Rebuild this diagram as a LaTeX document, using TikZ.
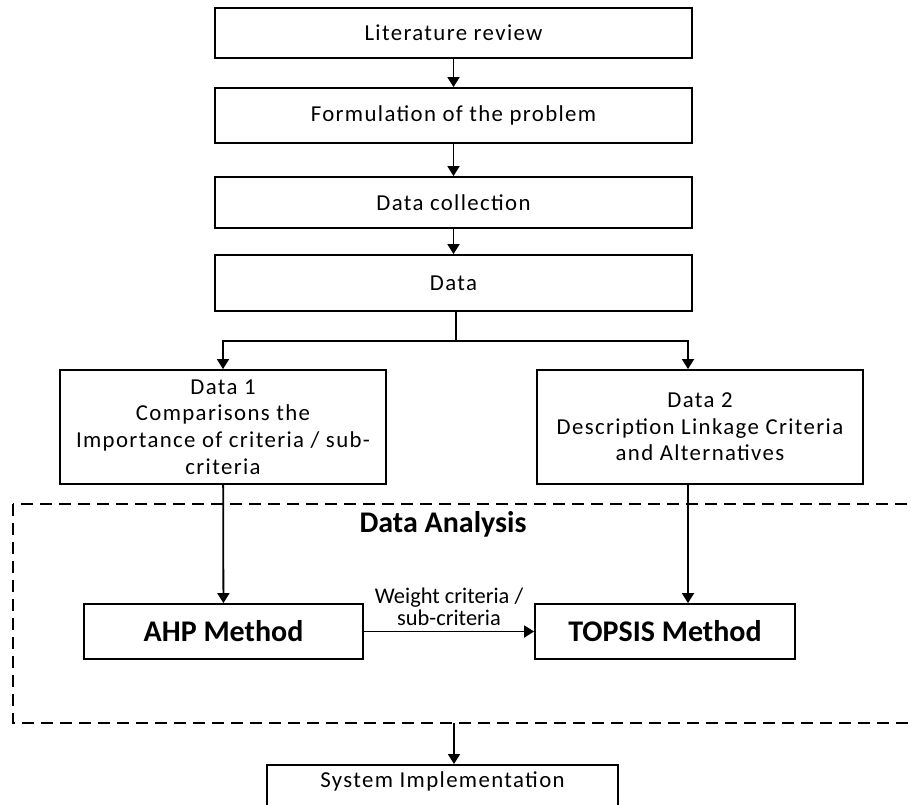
\documentclass[tikz,border=0pt]{standalone}
\usepackage{fontspec}
\setmainfont{Carlito}
\usepackage{tikz}
\usetikzlibrary{arrows.meta}
\usetikzlibrary{positioning}

\newfontfamily\boxfont[LetterSpace=6]{Carlito}

\begin{document}
\begin{tikzpicture}[x=0.5pt, y=-0.5pt,
  stagebox/.style={draw, line width=0.9pt, minimum width=238.5pt, align=center, font=\boxfont\fontsize{11.4}{13.3}\selectfont},
  databox/.style={draw, line width=0.9pt, minimum width=163pt, minimum height=57pt, align=center, font=\boxfont\fontsize{11.4}{13.3}\selectfont},
  methodbox/.style={draw, line width=0.9pt, minimum height=27.5pt, font=\fontsize{15}{17}\selectfont\bfseries},
  flow/.style={line width=0.9pt, -{Triangle[width=6pt,length=5pt]}}]

\useasboundingbox (0,0) rectangle (911,804);
\clip (0,0) rectangle (911,804);

% Steps before the analysis
\node[stagebox, minimum height=25pt  ] (litrev)  at (453.5, 33.0) {Literature review};
\node[stagebox, minimum height=27.5pt] (formul)  at (453.5,115.5) {Formulation of the problem};
\node[stagebox, minimum height=25.5pt] (collect) at (453.5,202.5) {Data collection};
\node[stagebox, minimum height=28pt  ] (data)    at (453.5,283.0) {Data};

\draw[flow] (litrev)  -- (formul);
\draw[flow] (formul)  -- (collect);
\draw[flow] (collect) -- (data);

% Two kinds of data
\node[databox] (data1) at (223,427) {Data 1\\Comparisons the\\Importance of criteria / sub-\\criteria};
\node[databox] (data2) at (700,427) {Data 2\\Description Linkage Criteria\\and Alternatives};

\coordinate (split) at (456,341);
\draw[line width=0.9pt] (data.south -| split) -- (split);
\draw[flow] (split) -| (data1.north);
\draw[flow] (split) -| ([xshift=-6pt]data2.north);

% Dashed area of the analysis
\draw[line width=0.9pt, dash pattern=on 6pt off 3.5pt] (13,504) rectangle (925,723);
\node[font=\fontsize{15}{17}\selectfont\bfseries] (analysis) at (443,524) {Data Analysis};

\node[methodbox, minimum width=139.5pt] (ahp)    at (223.5,631.5) {AHP Method};
\node[methodbox, minimum width=130pt  ] (topsis) at (665.0,631.5) {TOPSIS Method};

\draw[flow] (data1) -- (ahp);
\draw[flow] ([xshift=-6pt]data2.south) -- ([xshift=-6pt]data2.south |- topsis.north);
\draw[flow] (ahp) -- node[above=-1pt, font={\fontsize{11.2}{11}\selectfont\lineskiplimit=-20pt\relax}, align=center] (weight) {Weight criteria /\\sub-criteria} (topsis);

% Last step
\coordinate (areaout) at (454,723);
\node[stagebox, minimum width=175.5pt, anchor=north, text depth=20pt] (sysimp) at (442.5,764) {System Implementation};
\draw[flow] (areaout) -- (areaout |- sysimp.north);

\end{tikzpicture}
\end{document}
